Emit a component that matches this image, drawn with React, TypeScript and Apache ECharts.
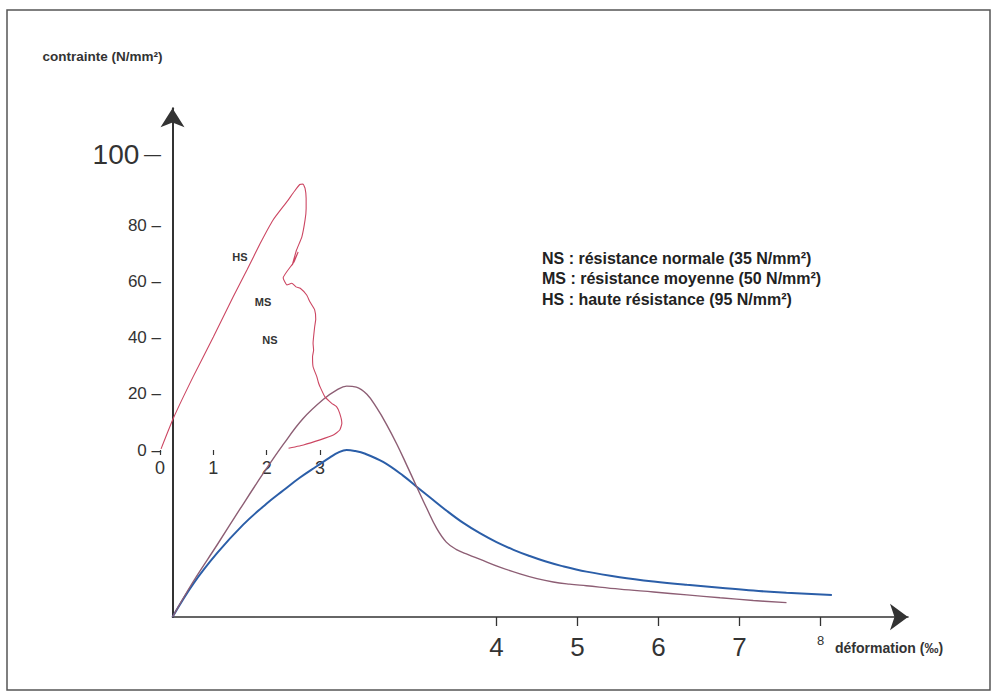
import React, { useEffect, useRef } from "react";
import * as echarts from "echarts";

// ---- data ----
// lower system (bottom axis, strain ‰ / stress N/mm²)
const nsPoints: [number, number][] = [
  [0, 0], [0.26, 7.0], [0.55, 13.3], [0.87, 19.2], [1.16, 23.6], [1.37, 26.4],
  [1.57, 29.0], [1.78, 31.4], [1.94, 33.2], [2.05, 34.3], [2.15, 34.8],
  [2.25, 34.6], [2.38, 34.0], [2.6, 32.3], [2.85, 29.4], [3.01, 27.2],
  [3.18, 24.9], [3.38, 22.2], [3.59, 19.6], [3.8, 17.4], [4.0, 15.6],
  [4.21, 14.0], [4.41, 12.7], [4.6, 11.6], [4.8, 10.65], [5.11, 9.45],
  [5.52, 8.3], [5.94, 7.4], [6.35, 6.7], [6.76, 6.1], [7.17, 5.5],
  [7.58, 5.05], [8.14, 4.6],
];
const msPoints: [number, number][] = [
  [0, 0], [0.26, 7.5], [0.55, 15.0], [0.83, 22.4], [1.12, 29.9], [1.37, 36.0],
  [1.61, 41.3], [1.86, 45.3], [2.03, 47.3], [2.15, 48.1], [2.27, 47.9],
  [2.4, 46.4], [2.52, 43.6], [2.64, 40.2], [2.77, 36.0], [2.89, 31.7],
  [3.01, 27.3], [3.14, 22.6], [3.26, 18.5], [3.38, 15.6], [3.5, 14.1],
  [3.65, 13.0], [3.8, 12.0], [4.04, 10.4], [4.29, 9.0], [4.5, 8.0],
  [4.7, 7.3], [4.9, 6.85], [5.11, 6.5], [5.52, 5.8], [5.94, 5.2],
  [6.35, 4.6], [6.76, 4.0], [7.17, 3.45], [7.58, 3.0],
];
// upper system (small 0..3 strain scale / stress labels 0..100)
const hsPoints: [number, number][] = [
  [0.02, 0.4], [0.26, 11.7], [0.62, 26.0], [1.0, 40.2], [1.37, 54.4],
  [1.63, 64.0], [1.88, 73.5], [2.12, 81.8], [2.38, 88.3], [2.52, 92.0],
  [2.62, 94.4], [2.68, 94.6], [2.72, 93.0], [2.74, 89.5], [2.74, 85.8],
  [2.72, 81.8], [2.66, 75.8], [2.56, 71.1], [2.48, 65.8], [2.59, 70.4],
  [2.51, 66.8], [2.31, 61.2], [2.38, 58.7], [2.47, 59.3], [2.55, 58.0],
  [2.63, 57.5], [2.75, 55.1], [2.81, 52.7], [2.9, 49.8], [2.92, 46.5],
  [2.9, 43.8], [2.87, 37.9], [2.88, 35.5], [2.86, 33.2], [2.87, 29.6],
  [2.94, 26.1], [2.97, 24.0], [3.0, 22.5], [3.09, 19.0], [3.22, 16.6],
  [3.31, 15.4], [3.37, 13.0], [3.41, 9.5], [3.37, 7.1], [3.25, 5.3],
  [3.0, 3.6], [2.69, 1.8], [2.41, 0.6],
];

const lowerStrainTicks = [4, 5, 6, 7, 8];
const upperStrainTicks = [0, 1, 2, 3];
const stressTicks = [0, 20, 40, 60, 80, 100];

const legendLines = [
  "NS : résistance normale (35 N/mm²)",
  "MS : résistance moyenne (50 N/mm²)",
  "HS : haute résistance (95 N/mm²)",
];
const curveNames = ["HS", "MS", "NS"];

const SANS = "'Liberation Sans', Arial, sans-serif";
const INK = "#333";

export default function App() {
  const ref = useRef<HTMLDivElement>(null);

  useEffect(() => {
    if (!ref.current) return;
    const chart = echarts.init(ref.current, null, { renderer: "svg" });

    const option: any = {
      animation: false,
      backgroundColor: "#fff",
      textStyle: { fontFamily: SANS },
      grid: [
        { left: 172.5, top: 108.2, width: 735.5, height: 508.8 },
        { left: 160, top: 168.75, width: 186.67, height: 281.25 },
      ],
      xAxis: [
        {
          type: "value",
          gridIndex: 0,
          min: 0,
          max: 9.08,
          splitLine: { show: false },
          axisLine: {
            show: true,
            onZero: false,
            symbol: ["none", "arrow"],
            symbolSize: [20, 18],
            lineStyle: { color: INK, width: 1.6 },
          },
          axisTick: {
            show: true,
            customValues: lowerStrainTicks,
            length: 9,
            lineStyle: { color: INK, width: 1.3 },
          },
          axisLabel: {
            customValues: lowerStrainTicks,
            margin: 17,
            color: INK,
            formatter: (v: number) => (v === 8 ? `{s|${v}}` : `{b|${v}}`),
            rich: {
              b: { fontSize: 26, fontFamily: SANS, color: INK },
              s: { fontSize: 13, fontFamily: SANS, color: INK, padding: [0, 0, 14, 0] },
            },
          },
          name: "déformation (‰)",
          nameLocation: "end",
          nameGap: -73,
          nameTextStyle: {
            align: "left",
            verticalAlign: "top",
            padding: [24, 0, 0, 0],
            fontSize: 14,
            fontWeight: "bold",
            fontFamily: SANS,
            color: INK,
          },
        },
        {
          type: "value",
          gridIndex: 1,
          min: 0,
          max: 3.5,
          splitLine: { show: false },
          axisLine: { show: false, onZero: false },
          axisTick: {
            show: true,
            customValues: upperStrainTicks,
            length: 5,
            lineStyle: { color: INK, width: 1.2 },
          },
          axisLabel: {
            customValues: upperStrainTicks,
            margin: 9,
            fontSize: 18,
            fontFamily: SANS,
            color: INK,
          },
        },
      ],
      yAxis: [
        {
          type: "value",
          gridIndex: 0,
          min: 0,
          max: 106,
          splitLine: { show: false },
          axisTick: { show: false },
          axisLabel: { show: false },
          axisLine: {
            show: true,
            onZero: false,
            symbol: ["none", "arrow"],
            symbolSize: [18, 19],
            lineStyle: { color: INK, width: 2 },
          },
          name: "contrainte (N/mm²)",
          nameLocation: "end",
          nameGap: 45,
          nameTextStyle: {
            align: "right",
            padding: [0, 10, 0, 0],
            fontSize: 13.5,
            fontWeight: "bold",
            fontFamily: SANS,
            color: INK,
          },
        },
        {
          type: "value",
          gridIndex: 1,
          min: 0,
          max: 100,
          interval: 20,
          offset: -13,
          splitLine: { show: false },
          axisTick: { show: false },
          axisLine: { show: false, onZero: false },
          axisLabel: {
            customValues: stressTicks,
            margin: 12,
            fontSize: 17,
            fontFamily: SANS,
            color: INK,
            formatter: (v: number) => (v === 100 ? `{big|${v}}{bd| —}` : `${v} –`),
            rich: {
              big: { fontSize: 28, fontFamily: SANS, color: INK, padding: [0, 0, 28, 0] },
              bd: { fontSize: 17, fontFamily: SANS, color: INK, padding: [0, 0, 28, 0] },
            },
          },
        },
      ],
      series: [
        {
          name: "NS",
          type: "line",
          xAxisIndex: 0,
          yAxisIndex: 0,
          data: nsPoints,
          showSymbol: false,
          smooth: 0.4,
          lineStyle: { color: "#2b5ea8", width: 2 },
        },
        {
          name: "MS",
          type: "line",
          xAxisIndex: 0,
          yAxisIndex: 0,
          data: msPoints,
          showSymbol: false,
          smooth: 0.4,
          lineStyle: { color: "#8d5e74", width: 1.4 },
        },
        {
          name: "HS",
          type: "line",
          xAxisIndex: 1,
          yAxisIndex: 1,
          data: hsPoints,
          showSymbol: false,
          clip: false,
          smooth: 0.15,
          lineStyle: { color: "#cc4662", width: 1.1 },
        },
      ],
      graphic: [
        {
          type: "rect",
          shape: { x: 7, y: 10, width: 983, height: 680 },
          style: { fill: "none", stroke: "#555", lineWidth: 1.5 },
          silent: true,
        },
        {
          type: "text",
          x: 542,
          y: 248,
          style: {
            text: legendLines.join("\n"),
            fontSize: 16,
            lineHeight: 20.5,
            fontWeight: "bold",
            fontFamily: SANS,
            fill: "#222",
          },
        },
        {
          type: "text",
          x: 240,
          y: 257,
          style: { text: curveNames[0], fontSize: 11, fontWeight: "bold", fontFamily: SANS, fill: INK, align: "center", verticalAlign: "middle" },
        },
        {
          type: "text",
          x: 263,
          y: 302,
          style: { text: curveNames[1], fontSize: 11, fontWeight: "bold", fontFamily: SANS, fill: INK, align: "center", verticalAlign: "middle" },
        },
        {
          type: "text",
          x: 270,
          y: 340,
          style: { text: curveNames[2], fontSize: 11, fontWeight: "bold", fontFamily: SANS, fill: INK, align: "center", verticalAlign: "middle" },
        },
      ],
    };

    chart.setOption(option);
    return () => chart.dispose();
  }, []);

  return (
    <div
      ref={ref}
      style={{ position: "absolute", left: 0, top: 0, width: 997, height: 694, background: "#fff" }}
    />
  );
}
